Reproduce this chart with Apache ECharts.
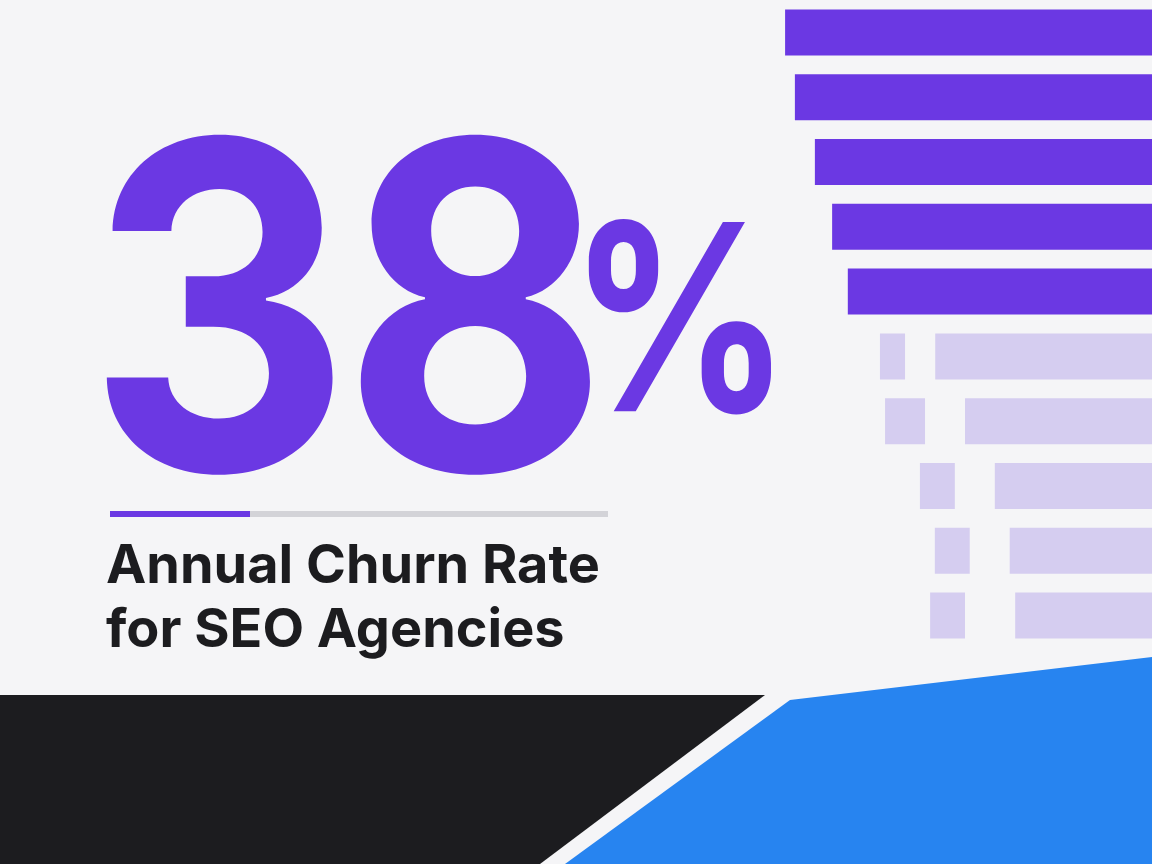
<!DOCTYPE html>
<html><head><meta charset="utf-8">
<script src="https://cdn.jsdelivr.net/npm/echarts@6/dist/echarts.min.js"></script>
<style>html,body{margin:0;padding:0;background:#f5f5f7}#c{width:1152px;height:864px}</style>
</head><body><div id="c"></div>
<script>
const rows = ['r1','r2','r3','r4','r5','r6','r7','r8','r9','r10'];
const gap1 = [6.4, 8.9, 14.0, 18.4, 22.4, 30.6, 31.9, 40.8, 44.6, 43.4];
const dash = [0, 0, 0, 0, 0, 6.4, 10.2, 8.9, 8.9, 8.9];
const gap2 = [0, 0, 0, 0, 0, 7.7, 10.2, 10.2, 10.2, 12.8];
const mainBar = [93.6, 91.1, 86.0, 81.6, 77.6, 55.3, 47.7, 40.1, 36.3, 34.9];
const isDark = [1,1,1,1,1,0,0,0,0,0];
const digits = ['3', '8'];
const caption = ['Annual Churn Rate', 'for SEO Agencies'];
const purple = '#6b38e3', light = '#d5cdf0';
const ch = echarts.init(document.getElementById('c'));
const col = p => isDark[p.dataIndex] ? purple : light;
const F = 'Inter, "DejaVu Sans", sans-serif';
ch.setOption({
  backgroundColor: '#f5f5f7',
  animation: false,
  grid: {left: 760, width: 392, top: -17, height: 665},
  xAxis: {type: 'value', min: 0, max: 100, show: false},
  yAxis: {type: 'category', data: rows, inverse: true, show: false},
  series: [
    {type: 'bar', stack: 's', data: gap1, barWidth: 46, itemStyle: {color: 'transparent'}},
    {type: 'bar', stack: 's', data: dash, itemStyle: {color: light}},
    {type: 'bar', stack: 's', data: gap2, itemStyle: {color: 'transparent'}},
    {type: 'bar', stack: 's', data: mainBar, itemStyle: {color: col}}
  ],
  graphic: [
    {type: 'polygon', shape: {points: [[0,695],[765,695],[540,864],[0,864]]}, style: {fill: '#1c1c1f'}},
    {type: 'polygon', shape: {points: [[565,864],[790,700],[1152,657],[1152,864]]}, style: {fill: '#2784f0'}},
    {type: 'text', x: 87, y: 106, scaleX: 0.9, style: {text: digits[0], font: 'bold 455px ' + F, fill: purple}},
    {type: 'text', x: 342, y: 106, scaleX: 0.9, style: {text: digits[1], font: 'bold 455px ' + F, fill: purple}},
    {type: 'text', x: 569, y: 203, scaleX: 0.84, style: {text: '%', font: 'bold 260px ' + F, fill: purple}},
    {type: 'rect', shape: {x: 110, y: 511, width: 498, height: 6}, style: {fill: '#d3d3d8'}},
    {type: 'rect', shape: {x: 110, y: 511, width: 140, height: 6}, style: {fill: purple}},
    {type: 'text', left: 106, top: 540, style: {text: caption[0], font: 'bold 54px ' + F, fill: '#1c1c1f'}},
    {type: 'text', left: 106, top: 604, style: {text: caption[1], font: 'bold 54px ' + F, fill: '#1c1c1f'}}
  ]
});
</script></body></html>
